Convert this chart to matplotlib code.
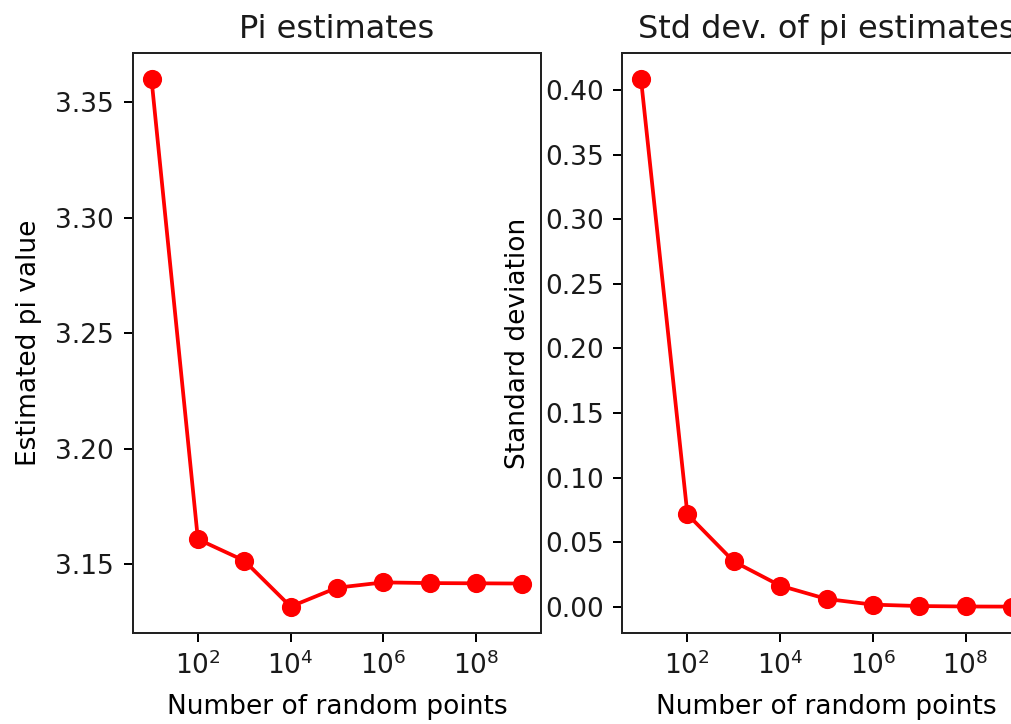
import matplotlib
matplotlib.use('Agg')
import matplotlib.pyplot as plt
from matplotlib.ticker import NullLocator

# number of random points used for each estimate
n_points = [1e1, 1e2, 1e3, 1e4, 1e5, 1e6, 1e7, 1e8, 1e9]
# mean pi estimate for each n
pi_estimates = [3.3600, 3.1608, 3.1515, 3.1316, 3.1398, 3.1421, 3.1418, 3.1417, 3.1416]
# std dev of the estimates
pi_std = [0.4083, 0.0716, 0.0350, 0.0163, 0.0060, 0.0016, 0.0005, 0.00016, 0.00005]

# the reference is an upscaled small figure, so scale the defaults up
s = 1.8
plt.rcParams.update({
    'font.family': 'DejaVu Sans',
    'font.size': 19,
    'xtick.labelsize': 19,
    'ytick.labelsize': 19,
    'axes.labelsize': 19,
    'axes.titlesize': 23,
    'axes.linewidth': 0.8 * s,
    'axes.titlepad': 6 * s,
    'axes.labelpad': 4 * s,
    'xtick.major.size': 6.5,
    'ytick.major.size': 6.5,
    'xtick.major.width': 0.8 * s,
    'ytick.major.width': 0.8 * s,
    'xtick.major.pad': 7,
    'ytick.major.pad': 7,
    'text.color': '#1a1a1a',
    'axes.edgecolor': '#222222',
    'xtick.labelcolor': '#1a1a1a',
    'ytick.labelcolor': '#1a1a1a',
})

fig = plt.figure(figsize=(10.12, 7.24), dpi=100)
ax1 = fig.add_axes([0.1314, 0.1257, 0.4032, 0.8011])
ax2 = fig.add_axes([0.6151, 0.1257, 0.4032, 0.8011])

ax1.plot(n_points, pi_estimates, 'ro-', lw=1.5 * s, ms=12, mew=s)
ax1.set_xscale('log')
ax1.set_title('Pi estimates')
ax1.set_xlabel('Number of random points', labelpad=10)
ax1.set_ylabel('Estimated pi value', labelpad=10)

ax2.plot(n_points, pi_std, 'ro-', lw=1.5 * s, ms=12, mew=s)
ax2.set_xscale('log')
ax2.set_title('Std dev. of pi estimates')
ax2.set_xlabel('Number of random points', labelpad=10)
ax2.set_ylabel('Standard deviation', labelpad=10)

for ax in (ax1, ax2):
    ax.set_xticks([1e2, 1e4, 1e6, 1e8])
    ax.xaxis.set_minor_locator(NullLocator())

ax1.set_yticks([3.15, 3.20, 3.25, 3.30, 3.35])
ax2.set_yticks([0.0, 0.05, 0.10, 0.15, 0.20, 0.25, 0.30, 0.35, 0.40])

fig.savefig('out.png', dpi=100)
